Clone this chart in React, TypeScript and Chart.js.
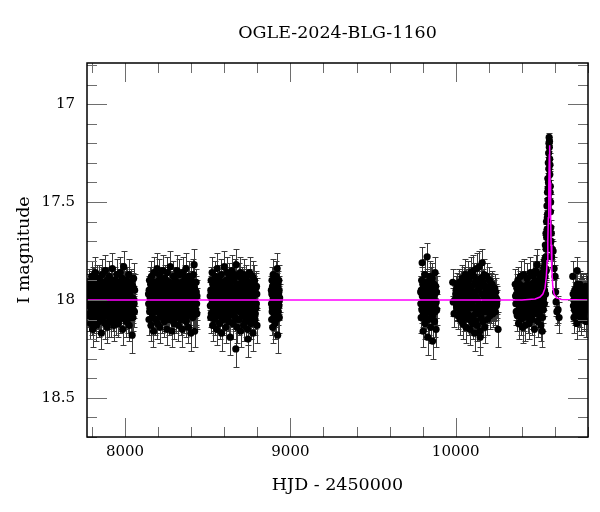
import React, { useEffect, useRef } from "react";
import { Chart, registerables } from "chart.js";

Chart.register(...registerables);

type Obs = [number, number, number]; // [HJD-2450000, I mag, error]

const SEASON_1: Obs[] = [
  [7778,17.96,.07],[7781,18.08,.08],[7784,17.91,.07],[7787,18.03,.07],[7790,18.12,.08],[7792,17.93,.06],[7795,18.01,.07],[7798,17.88,.08],[7801,18.06,.07],[7804,18.15,.09],[7806,17.97,.07],[7809,17.9,.07],[7812,18.04,.08],[7815,18.1,.07],[7818,17.94,.07],[7821,17.86,.08],[7824,18.02,.07],[7827,18.13,.08],[7830,17.99,.07],[7833,17.92,.07],[7836,18.07,.08],[7839,17.95,.07],[7842,18.11,.08],[7845,17.89,.07],[7848,18.0,.07],[7851,18.05,.07],[7854,17.91,.08],[7857,18.17,.08],[7860,17.98,.07],[7863,17.87,.08],[7866,18.09,.07],[7869,17.96,.07],[7872,18.03,.07],[7875,17.93,.07],[7878,18.12,.08],[7881,17.85,.08],[7884,18.01,.07],[7887,18.06,.07],[7890,17.94,.07],[7893,18.14,.08],[7896,17.9,.07],[7899,17.99,.07],[7902,18.08,.07],[7905,17.88,.08],[7908,18.04,.07],[7911,17.95,.07],[7914,18.11,.08],[7917,17.92,.07],[7920,18.02,.07],[7923,17.84,.08],[7926,18.07,.07],[7929,17.97,.07],[7932,18.13,.08],[7935,17.9,.07],[7938,18.0,.07],[7941,18.05,.07],[7944,17.93,.07],[7947,18.1,.08],[7950,17.87,.08],[7953,18.03,.07],[7956,17.96,.07],[7959,18.12,.07],[7962,17.91,.07],[7965,18.06,.08],[7968,17.99,.07],[7971,17.86,.08],[7974,18.09,.07],[7977,17.94,.07],[7980,18.02,.07],[7983,17.89,.08],[7986,18.15,.08],[7989,17.97,.07],[7992,17.83,.08],[7995,18.04,.07],[7998,17.92,.07],[8001,18.08,.07],[8004,17.98,.07],[8007,18.11,.08],[8010,17.9,.07],[8013,18.01,.07],[8016,17.94,.07],[8019,18.06,.07],[8022,17.87,.08],[8025,18.13,.08],[8028,17.96,.07],[8031,18.03,.07],[8034,17.91,.07],[8037,18.09,.08],[8040,17.99,.08],[8043,18.18,.09],[8046,17.93,.07],[8049,18.05,.07],[8052,17.89,.08],[8055,18.02,.07],[8058,17.95,.08],
  [7780,18.0,.07],[7783,17.94,.07],[7786,18.07,.07],[7789,17.98,.07],[7793,18.04,.07],[7797,17.92,.07],[7800,18.1,.08],[7803,17.96,.07],[7807,18.02,.07],[7811,17.9,.07],[7814,18.06,.07],[7817,17.99,.07],[7820,18.09,.07],[7823,17.93,.07],[7826,18.0,.07],[7829,17.89,.07],[7832,18.05,.07],[7835,17.97,.07],[7838,18.02,.07],[7841,17.92,.07],[7844,18.07,.07],[7847,17.95,.07],[7850,18.1,.07],[7853,18.0,.07],[7856,17.94,.07],[7859,18.04,.07],[7862,17.99,.07],[7865,17.91,.07],[7868,18.06,.07],[7871,18.0,.07],[7874,17.96,.07],[7877,18.03,.07],[7880,17.93,.07],[7883,18.08,.07],[7886,17.97,.07],[7889,18.02,.07],[7892,17.9,.07],[7895,18.05,.07],[7898,17.95,.07],[7901,18.0,.07],[7904,18.11,.08],[7907,17.93,.07],[7910,18.02,.07],[7913,17.98,.07],[7916,18.06,.07],[7919,17.91,.07],[7922,18.04,.07],[7925,17.96,.07],[7928,18.09,.07],[7931,17.99,.07],[7934,17.94,.07],[7937,18.05,.07],[7940,17.9,.07],[7943,18.01,.07],[7946,17.97,.07],[7949,18.07,.07],[7952,17.95,.07],[7955,18.02,.07],[7958,17.92,.07],[7961,18.04,.07],[7964,17.98,.07],[7967,18.1,.07],[7970,17.93,.07],[7973,18.0,.07],[7976,18.06,.07],[7979,17.96,.07],[7982,18.03,.07],[7985,17.91,.07],[7988,18.05,.07],[7991,17.99,.07],[7994,17.94,.07],[7997,18.08,.07],[8000,17.97,.07],[8003,18.02,.07],[8006,17.9,.07],[8009,18.05,.07],[8012,17.96,.07],[8015,18.1,.07],[8018,18.0,.07],[8021,17.93,.07],[8024,18.03,.07],[8027,17.98,.07],[8030,18.07,.07],[8033,17.95,.07],[8036,18.01,.07],[8039,17.92,.07],[8042,18.04,.07],[8045,17.99,.07],[8048,18.09,.07],[8051,17.94,.07],[8054,18.0,.07],[8057,18.06,.08],
];

const SEASON_2: Obs[] = [
  [8142,17.97,.07],[8145,18.1,.08],[8148,17.9,.07],[8151,18.04,.07],[8154,17.95,.07],[8157,18.13,.08],[8160,17.88,.08],[8163,18.01,.07],[8166,18.07,.07],[8169,17.93,.07],[8172,18.16,.08],[8175,17.86,.08],[8178,18.02,.07],[8181,17.97,.07],[8184,18.1,.08],[8187,17.91,.07],[8190,18.05,.07],[8193,17.84,.08],[8196,18.12,.08],[8199,17.99,.07],[8202,17.92,.07],[8205,18.06,.07],[8208,17.87,.08],[8211,18.14,.08],[8214,17.96,.07],[8217,18.03,.07],[8220,17.9,.07],[8223,18.09,.08],[8226,17.98,.07],[8229,17.85,.08],[8232,18.04,.07],[8235,17.94,.07],[8238,18.11,.08],[8241,17.89,.07],[8244,18.0,.07],[8247,18.07,.07],[8250,17.93,.07],[8253,18.15,.08],[8256,17.86,.08],[8259,18.02,.07],[8262,17.97,.07],[8265,18.1,.08],[8268,17.91,.07],[8271,18.05,.07],[8274,17.83,.08],[8277,18.08,.07],[8280,17.96,.07],[8284,18.16,.08],[8287,17.92,.07],[8290,18.01,.07],[8293,17.88,.08],[8296,18.12,.08],[8299,17.95,.07],[8302,18.04,.07],[8305,17.9,.07],[8308,18.09,.08],[8311,17.98,.07],[8314,17.85,.08],[8317,18.06,.07],[8320,17.93,.07],[8323,18.13,.08],[8326,17.99,.07],[8329,17.87,.08],[8332,18.03,.07],[8335,17.94,.07],[8338,18.1,.08],[8341,17.91,.07],[8344,18.0,.07],[8347,18.15,.09],[8350,17.86,.08],[8353,18.05,.07],[8356,17.96,.07],[8359,18.08,.07],[8362,17.89,.07],[8365,18.02,.07],[8368,17.84,.08],[8371,18.11,.08],[8374,17.97,.07],[8377,18.04,.07],[8380,17.92,.07],[8383,18.14,.08],[8386,17.88,.08],[8389,18.01,.07],[8392,18.07,.07],[8395,17.94,.07],[8398,18.17,.09],[8401,17.9,.07],[8404,18.03,.07],[8407,17.97,.07],[8410,18.09,.08],[8413,17.87,.08],[8416,18.0,.07],[8418,17.82,.08],[8421,18.16,.08],[8424,17.95,.07],[8427,18.06,.08],[8430,17.91,.07],[8433,18.02,.08],[8435,17.98,.08],
  [8143,18.02,.07],[8146,17.95,.07],[8149,18.06,.07],[8152,17.99,.07],[8155,17.92,.07],[8158,18.03,.07],[8161,17.97,.07],[8164,18.09,.07],[8167,18.0,.07],[8170,17.94,.07],[8173,18.05,.07],[8176,17.98,.07],[8179,17.91,.07],[8182,18.04,.07],[8185,17.96,.07],[8188,18.1,.07],[8191,18.0,.07],[8194,17.93,.07],[8197,18.06,.07],[8200,17.97,.07],[8203,18.02,.07],[8206,17.9,.07],[8209,18.01,.07],[8212,17.95,.07],[8215,18.08,.07],[8218,17.99,.07],[8221,18.04,.07],[8224,17.92,.07],[8227,18.0,.07],[8230,18.06,.07],[8233,17.96,.07],[8236,18.02,.07],[8239,17.94,.07],[8242,18.09,.07],[8245,17.98,.07],[8248,18.03,.07],[8251,17.9,.07],[8254,18.0,.07],[8257,17.96,.07],[8260,18.07,.07],[8263,18.01,.07],[8266,17.93,.07],[8269,18.04,.07],[8272,17.97,.07],[8275,18.1,.07],[8278,17.92,.07],[8281,18.02,.07],[8283,17.99,.07],[8286,18.05,.07],[8289,17.94,.07],[8292,18.08,.07],[8295,17.98,.07],[8298,18.01,.07],[8301,17.91,.07],[8304,18.06,.07],[8307,17.96,.07],[8310,18.03,.07],[8313,18.0,.07],[8316,17.93,.07],[8319,18.09,.07],[8322,17.97,.07],[8325,18.04,.07],[8328,17.95,.07],[8331,18.01,.07],[8334,18.07,.07],[8337,17.92,.07],[8340,18.02,.07],[8343,17.98,.07],[8346,18.05,.07],[8349,17.94,.07],[8352,18.0,.07],[8355,18.1,.07],[8358,17.96,.07],[8361,18.03,.07],[8364,17.91,.07],[8367,18.06,.07],[8370,17.99,.07],[8373,18.02,.07],[8376,17.95,.07],[8379,18.08,.07],[8382,18.0,.07],[8385,17.93,.07],[8388,18.04,.07],[8391,17.97,.07],[8394,18.01,.07],[8397,17.92,.07],[8400,18.06,.07],[8403,17.98,.07],[8406,18.03,.07],[8409,17.95,.07],[8412,18.0,.07],[8415,18.08,.07],[8419,17.94,.07],[8422,18.02,.07],[8425,17.99,.07],[8428,18.05,.08],[8431,17.96,.08],[8434,18.07,.08],
];

const SEASON_3: Obs[] = [
  [8515,17.98,.07],[8518,18.09,.08],[8521,17.9,.07],[8524,18.03,.07],[8527,17.86,.08],[8530,18.13,.08],[8533,17.95,.07],[8536,18.06,.07],[8539,17.92,.07],[8542,18.1,.08],[8545,17.88,.08],[8548,18.01,.07],[8551,17.97,.07],[8554,18.15,.08],[8557,17.84,.08],[8560,18.04,.07],[8563,17.93,.07],[8566,18.08,.07],[8569,17.89,.07],[8572,18.12,.08],[8575,17.96,.07],[8578,18.02,.07],[8581,17.87,.08],[8584,18.17,.09],[8587,17.94,.07],[8590,18.05,.07],[8593,17.91,.07],[8596,18.1,.08],[8600,17.83,.08],[8603,18.0,.07],[8606,17.97,.07],[8609,18.14,.08],[8612,17.9,.07],[8615,18.06,.07],[8618,17.86,.08],[8621,18.03,.07],[8624,17.95,.07],[8627,18.11,.08],[8630,17.88,.07],[8633,18.01,.07],[8636,18.19,.09],[8639,17.93,.07],[8642,18.07,.07],[8645,17.85,.08],[8648,18.04,.07],[8651,17.98,.07],[8654,18.12,.08],[8657,17.9,.07],[8660,18.02,.07],[8663,17.87,.08],[8666,18.09,.07],[8670,18.25,.09],[8672,17.82,.08],[8675,17.96,.07],[8678,18.14,.08],[8681,17.92,.07],[8684,18.05,.07],[8687,17.88,.07],[8690,18.1,.08],[8693,17.99,.07],[8696,17.86,.08],[8699,18.16,.08],[8702,17.94,.07],[8705,18.03,.07],[8708,17.9,.07],[8711,18.08,.08],[8714,17.97,.07],[8717,18.13,.08],[8720,17.87,.08],[8723,18.01,.07],[8726,17.93,.07],[8729,18.11,.08],[8732,17.89,.07],[8735,18.06,.07],[8738,17.95,.07],[8741,18.15,.08],[8744,18.2,.09],[8747,17.91,.07],[8750,18.04,.07],[8753,17.86,.08],[8756,18.09,.08],[8759,17.98,.07],[8762,18.12,.08],[8765,17.92,.07],[8768,18.02,.07],[8771,17.88,.08],[8774,18.17,.09],[8777,17.95,.07],[8780,18.07,.07],[8783,17.9,.08],[8786,18.1,.08],[8789,17.97,.07],[8792,18.04,.08],[8795,17.93,.08],[8798,18.13,.09],
  [8516,18.03,.07],[8519,17.95,.07],[8522,18.07,.07],[8525,17.99,.07],[8528,18.01,.07],[8531,17.92,.07],[8534,18.04,.07],[8537,17.97,.07],[8540,18.09,.07],[8543,18.0,.07],[8546,17.94,.07],[8549,18.06,.07],[8552,17.98,.07],[8555,18.02,.07],[8558,17.91,.07],[8561,18.0,.07],[8564,18.05,.07],[8567,17.96,.07],[8570,18.03,.07],[8573,17.93,.07],[8576,18.08,.07],[8579,17.99,.07],[8582,18.01,.07],[8585,17.95,.07],[8588,18.1,.07],[8591,17.98,.07],[8594,18.04,.07],[8597,17.92,.07],[8599,18.02,.07],[8602,17.96,.07],[8605,18.07,.07],[8608,18.0,.07],[8611,17.94,.07],[8614,18.03,.07],[8617,17.97,.07],[8620,18.09,.07],[8623,18.01,.07],[8626,17.92,.07],[8629,18.05,.07],[8632,17.98,.07],[8635,18.0,.07],[8638,17.95,.07],[8641,18.06,.07],[8644,17.99,.07],[8647,18.02,.07],[8650,17.9,.07],[8653,18.04,.07],[8656,17.96,.07],[8659,18.08,.07],[8662,18.0,.07],[8665,17.94,.07],[8668,18.03,.07],[8671,17.97,.07],[8674,18.05,.07],[8677,17.92,.07],[8680,18.01,.07],[8683,17.98,.07],[8686,18.1,.07],[8689,17.95,.07],[8692,18.02,.07],[8695,18.06,.07],[8698,17.99,.07],[8701,17.93,.07],[8704,18.04,.07],[8707,18.0,.07],[8710,17.96,.07],[8713,18.07,.07],[8716,17.91,.07],[8719,18.02,.07],[8722,17.98,.07],[8725,18.05,.07],[8728,17.95,.07],[8731,18.0,.07],[8734,18.09,.07],[8737,17.93,.07],[8740,18.03,.07],[8743,17.97,.07],[8746,18.06,.07],[8749,17.99,.07],[8752,18.01,.07],[8755,17.94,.07],[8758,18.04,.07],[8761,17.96,.07],[8764,18.08,.07],[8767,18.0,.07],[8770,17.92,.07],[8773,18.03,.07],[8776,17.98,.07],[8779,18.05,.07],[8782,17.95,.07],[8785,18.01,.07],[8788,18.07,.08],[8791,17.94,.08],[8794,18.02,.08],[8797,17.97,.08],
];

const SEASON_4: Obs[] = [
  [8885,17.95,.07],[8887,18.1,.08],[8889,17.9,.07],[8891,18.04,.07],[8893,18.14,.08],[8896,17.87,.08],[8898,18.0,.07],[8900,17.93,.07],[8902,18.08,.08],[8905,17.97,.07],[8907,18.12,.08],[8910,17.91,.07],[8912,18.03,.07],[8915,17.88,.08],[8918,18.06,.07],[8920,17.84,.08],[8923,18.18,.09],[8925,17.96,.07],[8928,18.02,.07],[8930,17.9,.08],[8933,18.09,.08],[8935,17.99,.07],
  [8886,18.02,.07],[8888,17.97,.07],[8890,18.06,.07],[8892,17.93,.07],[8894,18.01,.07],[8895,17.98,.07],[8897,18.04,.07],[8899,17.92,.07],[8901,18.0,.07],[8903,17.96,.07],[8904,18.05,.07],[8906,18.0,.07],[8908,17.94,.07],[8909,18.07,.07],[8911,17.99,.07],[8913,18.02,.07],[8914,17.95,.07],[8916,18.1,.07],[8917,18.0,.07],[8919,17.93,.07],[8921,18.04,.07],[8922,17.98,.07],[8924,18.01,.07],[8926,17.92,.07],[8927,18.06,.07],[8929,17.97,.07],[8931,18.03,.07],[8932,17.95,.07],[8934,18.0,.07],
];

const SEASON_5: Obs[] = [
  [9788,17.96,.08],[9791,18.09,.08],[9794,17.9,.07],[9797,17.81,.08],[9800,18.04,.07],[9803,18.16,.08],[9806,17.93,.07],[9809,18.01,.07],[9812,17.87,.08],[9815,18.12,.08],[9818,17.97,.07],[9821,18.06,.07],[9824,17.91,.07],[9827,17.78,.07],[9830,18.19,.09],[9833,18.03,.07],[9836,17.94,.07],[9839,18.1,.08],[9842,17.88,.08],[9845,18.0,.07],[9848,18.14,.08],[9851,17.95,.07],[9854,18.07,.07],[9857,17.89,.08],[9860,18.21,.09],[9863,17.98,.07],[9866,18.05,.08],[9869,17.92,.07],[9872,18.11,.08],[9875,17.86,.08],[9878,18.02,.07],[9881,18.15,.09],[9884,17.96,.08],
  [9789,18.02,.08],[9792,17.95,.07],[9795,18.05,.07],[9798,17.98,.07],[9801,17.92,.07],[9804,18.07,.07],[9807,18.0,.07],[9810,17.96,.07],[9813,18.03,.07],[9816,17.94,.07],[9819,18.09,.07],[9822,18.0,.07],[9825,17.97,.07],[9828,18.04,.07],[9831,17.93,.07],[9834,18.01,.07],[9837,17.98,.07],[9840,18.06,.07],[9843,17.95,.07],[9846,18.02,.07],[9849,17.9,.07],[9852,18.0,.07],[9855,18.04,.07],[9858,17.96,.07],[9861,18.08,.07],[9864,17.99,.07],[9867,17.94,.07],[9870,18.03,.07],[9873,17.97,.07],[9876,18.06,.07],[9879,17.93,.07],[9882,18.01,.08],[9885,18.05,.08],
];

const SEASON_6: Obs[] = [
  [9982,17.91,.07],[9985,18.01,.07],[9990,18.07,.07],[10000,17.97,.07],[10005,18.03,.07],[10010,17.93,.07],[10014,18.08,.07],[10018,17.99,.07],[10022,17.91,.07],[10026,18.1,.08],[10030,17.95,.07],[10034,18.04,.07],[10038,17.89,.07],[10042,18.12,.08],[10046,17.98,.07],[10050,17.9,.07],[10054,18.06,.07],[10058,17.87,.08],[10062,18.14,.08],[10066,17.96,.07],[10070,18.02,.07],[10074,17.88,.08],[10078,18.1,.08],[10082,17.93,.07],[10086,18.15,.08],[10090,17.86,.08],[10094,18.04,.07],[10098,17.97,.07],[10102,18.12,.08],[10106,17.85,.08],[10110,18.0,.07],[10114,18.17,.09],[10118,17.91,.07],[10122,18.07,.07],[10126,17.84,.08],[10130,18.13,.08],[10134,17.95,.07],[10138,18.03,.07],[10142,17.83,.08],[10146,18.16,.08],[10148,18.19,.09],[10152,17.92,.07],[10156,18.05,.07],[10160,17.81,.07],[10164,18.11,.08],[10168,17.97,.07],[10172,17.87,.08],[10176,18.14,.08],[10180,17.94,.07],[10184,18.06,.07],[10188,17.88,.07],[10192,18.1,.08],[10196,17.96,.07],[10200,18.02,.07],[10204,17.9,.07],[10208,18.08,.07],[10212,17.93,.07],[10216,18.05,.07],[10220,17.92,.07],[10224,18.07,.07],[10228,17.96,.07],[10232,18.03,.07],[10236,17.94,.07],[10240,18.06,.07],[10244,17.99,.07],[10248,18.02,.07],[10256,18.15,.09],
  [9995,18.0,.07],[10002,17.95,.07],[10007,18.04,.07],[10012,17.98,.07],[10016,18.02,.07],[10020,17.94,.07],[10024,18.05,.07],[10028,18.0,.07],[10032,17.92,.07],[10036,18.07,.07],[10040,17.97,.07],[10044,18.02,.07],[10048,17.93,.07],[10052,18.09,.07],[10056,17.99,.07],[10060,17.91,.07],[10064,18.04,.07],[10068,17.95,.07],[10072,18.07,.07],[10076,18.0,.07],[10080,17.9,.07],[10084,18.03,.07],[10088,17.97,.07],[10092,18.1,.07],[10096,17.93,.07],[10100,18.01,.07],[10104,17.96,.07],[10108,18.08,.07],[10112,17.88,.07],[10116,18.04,.07],[10120,17.98,.07],[10124,18.11,.07],[10128,17.92,.07],[10132,18.0,.07],[10136,18.06,.07],[10140,17.94,.07],[10144,18.02,.07],[10150,17.89,.07],[10154,18.09,.07],[10158,17.97,.07],[10162,18.03,.07],[10166,17.91,.07],[10170,18.06,.07],[10174,17.99,.07],[10178,18.01,.07],[10182,17.93,.07],[10186,18.04,.07],[10190,17.97,.07],[10194,18.02,.07],[10198,17.94,.07],[10202,18.05,.07],[10206,17.98,.07],[10210,18.01,.07],[10214,17.95,.07],[10218,18.03,.07],[10222,17.99,.07],[10226,18.01,.07],[10230,17.97,.07],[10234,18.04,.07],[10238,18.0,.07],[10242,17.96,.07],[10246,18.03,.07],[10250,18.0,.07],
];

const SEASON_7: Obs[] = [
  [10360,17.92,.08],[10364,18.02,.08],[10368,17.97,.07],[10372,18.08,.08],[10376,17.9,.07],[10380,18.12,.08],[10384,17.95,.07],[10388,18.04,.07],[10392,17.88,.08],[10396,18.1,.08],[10400,17.99,.07],[10404,18.14,.08],[10408,17.93,.07],[10412,17.87,.08],[10416,18.06,.07],[10420,18.13,.08],[10424,17.96,.07],[10428,18.03,.07],[10432,17.89,.08],[10436,18.09,.08],[10440,17.94,.07],[10444,18.12,.08],[10448,17.98,.07],[10452,17.86,.08],[10456,18.05,.07],[10460,17.92,.07],[10464,18.1,.08],[10468,17.88,.08],[10472,18.01,.07],[10476,18.15,.08],[10480,17.95,.07],[10484,17.85,.08],[10488,18.07,.07],[10492,17.82,.08],[10496,18.11,.08],[10500,17.93,.07],[10503,18.03,.07],[10506,17.87,.07],[10509,18.08,.07],[10512,17.96,.07],[10515,18.13,.08],[10518,17.89,.07],[10521,18.0,.07],[10523,18.16,.08],[10526,17.86,.07],[10528,17.94,.06],[10530,18.05,.07],[10532,17.84,.06],[10534,17.92,.06],[10536,18.02,.06],[10538,17.8,.06],[10540,17.88,.05],[10542,17.72,.05],[10543,17.97,.06],[10545,17.78,.05],[10546,17.66,.05],[10548,17.85,.05],[10549,17.6,.04],[10551,17.72,.04],[10552,17.52,.04],[10553,17.64,.04],[10555,17.45,.03],[10556,17.56,.04],[10557,17.38,.03],[10558,17.49,.03],[10560,17.3,.03],[10561,17.4,.03],[10562,17.25,.03],[10563,17.33,.03],[10564,17.2,.02],[10565,17.17,.02],[10566,17.22,.02],[10567,17.19,.02],[10568,17.28,.03],[10569,17.36,.03],[10570,17.31,.03],[10571,17.45,.03],[10572,17.42,.03],[10573,17.55,.04],[10574,17.5,.04],[10575,17.63,.04],[10576,17.7,.05],[10578,17.66,.04],[10580,17.78,.05],[10583,17.74,.05],[10589,17.75,.05],[10595,17.84,.06],[10601,17.88,.06],[10604,17.96,.07],[10607,18.01,.07],[10612,18.06,.07],[10619,18.05,.07],[10625,18.09,.08],
  [10362,17.98,.07],[10366,18.06,.07],[10370,17.94,.07],[10374,18.02,.07],[10378,17.97,.07],[10382,18.05,.07],[10386,17.92,.07],[10390,18.0,.07],[10394,18.07,.07],[10398,17.95,.07],[10402,18.03,.07],[10406,17.98,.07],[10410,18.09,.07],[10414,17.93,.07],[10418,18.01,.07],[10422,17.96,.07],[10426,18.06,.07],[10430,18.0,.07],[10434,17.92,.07],[10438,18.04,.07],[10442,17.97,.07],[10446,18.02,.07],[10450,17.94,.07],[10454,18.08,.07],[10458,17.99,.07],[10462,18.03,.07],[10466,17.95,.07],[10470,18.06,.07],[10474,17.91,.07],[10478,18.01,.07],[10482,17.97,.07],[10486,18.04,.07],[10490,17.93,.07],[10494,18.0,.07],[10498,18.07,.07],[10501,17.9,.07],[10504,17.98,.07],[10507,18.02,.07],[10510,17.92,.07],[10513,18.05,.07],[10516,17.95,.07],[10519,18.01,.07],[10522,17.9,.07],[10525,18.09,.07],[10527,17.97,.06],[10529,17.87,.06],[10531,17.99,.06],[10533,17.9,.06],[10535,17.83,.06],[10537,17.95,.06],[10539,17.86,.05],[10541,17.79,.05],[10544,17.84,.05],[10547,17.74,.05],[10550,17.68,.04],[10554,17.58,.04],[10559,17.43,.03],
];

const SEASON_8: Obs[] = [
  [10708,17.88,.08],[10712,18.03,.08],[10715,18.09,.08],[10720,17.95,.07],[10724,18.06,.07],[10728,17.98,.07],[10732,18.12,.08],[10736,17.92,.07],[10740,18.02,.07],[10744,18.08,.08],[10748,17.96,.07],[10752,18.04,.07],[10756,17.93,.07],[10760,18.1,.08],[10764,17.99,.07],[10768,18.05,.07],[10772,17.94,.07],[10776,18.07,.08],[10780,18.01,.07],[10784,17.97,.07],[10788,18.11,.08],[10792,17.95,.07],[10796,18.03,.07],
  [10710,17.97,.08],[10714,18.0,.07],[10718,18.05,.07],[10722,17.98,.07],[10726,18.02,.07],[10730,17.94,.07],[10734,17.85,.07],[10738,18.06,.07],[10742,17.97,.07],[10746,18.01,.07],[10750,17.92,.07],[10754,18.07,.07],[10758,17.99,.07],[10762,18.03,.07],[10766,17.95,.07],[10770,18.0,.07],[10774,18.09,.07],[10778,17.96,.07],[10782,18.02,.07],[10786,17.93,.07],[10790,18.05,.07],[10794,17.98,.07],[10798,18.0,.07],
];

// model light curve
const MODEL_HJD = [7770, 10400, 10480, 10510, 10527, 10540, 10548, 10553, 10557, 10560, 10563, 10566, 10567, 10569, 10571, 10574, 10577, 10581, 10587, 10595, 10610, 10640, 10800];
const MODEL_MAG = [18.0, 18.0, 17.995, 17.985, 17.97, 17.94, 17.88, 17.8, 17.7, 17.58, 17.42, 17.26, 17.21, 17.26, 17.4, 17.58, 17.72, 17.84, 17.93, 17.97, 17.99, 17.998, 18.0];

const X_MIN = 7770;
const X_MAX = 10800;
const Y_MIN = 16.79;
const Y_MAX = 18.7;
const X_TICKS = [7800, 8000, 8200, 8400, 8600, 8800, 9000, 9200, 9400, 9600, 9800, 10000, 10200, 10400, 10600, 10800];
const X_LABELED = [8000, 9000, 10000];
const Y_TICKS = [16.8, 16.9, 17.0, 17.1, 17.2, 17.3, 17.4, 17.5, 17.6, 17.7, 17.8, 17.9, 18.0, 18.1, 18.2, 18.3, 18.4, 18.5, 18.6, 18.7];
const Y_LABELED = [17, 17.5, 18, 18.5];

const TITLE = "OGLE-2024-BLG-1160";
const X_TITLE = "HJD - 2450000";
const Y_TITLE = "I magnitude";

const OBS: Obs[] = [
  ...SEASON_1, ...SEASON_2, ...SEASON_3, ...SEASON_4,
  ...SEASON_5, ...SEASON_6, ...SEASON_7, ...SEASON_8,
];

const FONT = "'DejaVu Serif', 'Liberation Serif', serif";

const inList = (v: number, list: number[]) => list.some((l) => Math.abs(l - v) < 1e-6);

const errorBarPlugin = {
  id: "errorBars",
  beforeDatasetsDraw(chart: any) {
    const { ctx, chartArea } = chart;
    const xs = chart.scales.x;
    const ys = chart.scales.y;
    ctx.save();
    ctx.beginPath();
    ctx.rect(chartArea.left, chartArea.top, chartArea.right - chartArea.left, chartArea.bottom - chartArea.top);
    ctx.clip();
    ctx.strokeStyle = "#3a3a3a";
    ctx.lineWidth = 1;
    ctx.beginPath();
    for (const [t, m, e] of OBS) {
      const px = Math.round(xs.getPixelForValue(t)) + 0.5;
      const y1 = Math.round(ys.getPixelForValue(m - e)) + 0.5;
      const y2 = Math.round(ys.getPixelForValue(m + e)) + 0.5;
      ctx.moveTo(px, y1);
      ctx.lineTo(px, y2);
      ctx.moveTo(px - 3, y1);
      ctx.lineTo(px + 3, y1);
      ctx.moveTo(px - 3, y2);
      ctx.lineTo(px + 3, y2);
    }
    ctx.stroke();
    ctx.restore();
  },
};

const framePlugin = {
  id: "frameTicks",
  afterDraw(chart: any) {
    const { ctx, chartArea } = chart;
    const { left, right, top, bottom } = chartArea;
    const xs = chart.scales.x;
    const ys = chart.scales.y;
    ctx.save();
    ctx.strokeStyle = "#6e6e6e";
    ctx.lineWidth = 1;
    ctx.beginPath();
    for (const tk of xs.ticks) {
      const v = tk.value;
      const len = inList(v, X_LABELED) ? 19 : 10;
      const px = Math.round(xs.getPixelForValue(v)) + 0.5;
      ctx.moveTo(px, bottom);
      ctx.lineTo(px, bottom - len);
      ctx.moveTo(px, top);
      ctx.lineTo(px, top + len);
    }
    for (const tk of ys.ticks) {
      const v = tk.value;
      const len = inList(v, Y_LABELED) ? 20 : 10;
      const py = Math.round(ys.getPixelForValue(v)) + 0.5;
      ctx.moveTo(left, py);
      ctx.lineTo(left + len, py);
      ctx.moveTo(right, py);
      ctx.lineTo(right - len, py);
    }
    ctx.stroke();
    ctx.strokeStyle = "#000";
    ctx.lineWidth = 1.5;
    ctx.strokeRect(left, top, right - left, bottom - top);
    ctx.restore();
  },
};

export default function App() {
  const canvasRef = useRef<HTMLCanvasElement | null>(null);

  useEffect(() => {
    const canvas = canvasRef.current;
    if (!canvas) return;
    Chart.defaults.font.family = FONT;
    Chart.defaults.color = "#000";

    const chart = new Chart(canvas, {
      type: "scatter",
      data: {
        datasets: [
          {
            label: "model",
            type: "line",
            data: MODEL_HJD.map((t, i) => ({ x: t, y: MODEL_MAG[i] })),
            borderColor: "#ff00ff",
            borderWidth: 1.5,
            pointRadius: 0,
            tension: 0,
            fill: false,
            order: 0,
          },
          {
            label: "OGLE I",
            data: OBS.map(([t, m]) => ({ x: t, y: m })),
            backgroundColor: "#000",
            borderColor: "#000",
            borderWidth: 0,
            pointRadius: 3.6,
            order: 1,
          },
        ],
      },
      options: {
        responsive: false,
        animation: false,
        devicePixelRatio: 1,
        layout: { padding: { left: 0, right: 12, top: 0, bottom: 0 } },
        plugins: {
          legend: { display: false },
          tooltip: { enabled: false },
          title: { display: false },
        },
        scales: {
          x: {
            type: "linear",
            position: "bottom",
            min: X_MIN,
            max: X_MAX,
            grid: { display: false, drawTicks: false },
            border: { display: false },
            afterBuildTicks: (s: any) => {
              s.ticks = X_TICKS.map((v) => ({ value: v }));
            },
            ticks: {
              autoSkip: false,
              maxRotation: 0,
              padding: 6,
              font: { size: 15 },
              color: "#000",
              callback: (v: any) => (inList(Number(v), X_LABELED) ? String(v) : ""),
            },
            title: {
              display: true,
              text: X_TITLE,
              font: { size: 17.5 },
              color: "#000",
              padding: { top: 0, bottom: 16.5 },
            },
            afterFit: (s: any) => {
              s.height = 75;
            },
          },
          xTop: {
            type: "linear",
            position: "top",
            display: true,
            min: X_MIN,
            max: X_MAX,
            grid: { display: false, drawTicks: false },
            border: { display: false },
            ticks: { display: false },
            title: {
              display: true,
              text: TITLE,
              font: { size: 17.5 },
              color: "#000",
              padding: { top: 22.5, bottom: 0 },
            },
            afterFit: (s: any) => {
              s.height = 63;
            },
          },
          y: {
            type: "linear",
            position: "left",
            reverse: true,
            min: Y_MIN,
            max: Y_MAX,
            grid: { display: false, drawTicks: false },
            border: { display: false },
            afterBuildTicks: (s: any) => {
              s.ticks = Y_TICKS.map((v) => ({ value: v }));
            },
            ticks: {
              autoSkip: false,
              padding: 12,
              font: { size: 15 },
              color: "#000",
              callback: (v: any) => {
                const n = Number(v);
                return inList(n, Y_LABELED) ? String(Math.round(n * 10) / 10) : "";
              },
            },
            title: {
              display: true,
              text: Y_TITLE,
              font: { size: 17.5 },
              color: "#000",
              padding: { top: 13.5, bottom: 0 },
            },
            afterFit: (s: any) => {
              s.width = 87;
            },
          },
        },
      } as any,
      plugins: [errorBarPlugin, framePlugin],
    });

    return () => {
      chart.destroy();
    };
  }, []);

  return (
    <div style={{ position: "absolute", left: 0, top: 0, width: 600, height: 512, background: "#fff" }}>
      <canvas ref={canvasRef} width={600} height={512} style={{ width: 600, height: 512, display: "block" }} />
    </div>
  );
}
